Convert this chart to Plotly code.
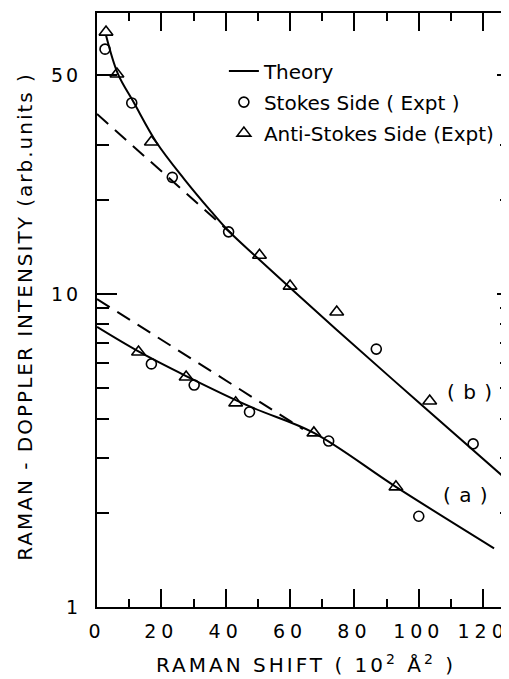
import plotly.graph_objects as go

# ---- data ----
# Theory curves (solid)
theory_b_x = [2.8, 6.5, 11.4, 18.5, 27.1, 35.4, 40.9, 49.8, 60.0, 74.2, 99.4, 126.8]
theory_b_y = [67.1, 50.5, 41.0, 30.5, 23.3, 18.4, 15.9, 13.06, 10.47, 7.73, 4.56, 2.58]
theory_a_x = [0.0, 12.6, 27.7, 48.0, 67.4, 92.9, 123.4]
theory_a_y = [7.85, 6.58, 5.47, 4.35, 3.60, 2.42, 1.54]

# Dashed asymptotic lines
dash_b_x = [0.0, 41.8]
dash_b_y = [37.6, 15.6]
dash_a_x = [0.0, 64.0]
dash_a_y = [9.64, 3.70]

# Stokes side (circles)
stokes_b_x = [2.5, 10.8, 23.4, 40.9, 86.8, 116.9]
stokes_b_y = [60.6, 40.8, 23.6, 15.8, 6.67, 3.32]
stokes_a_x = [16.9, 30.2, 47.4, 72.0, 100.0]
stokes_a_y = [5.98, 5.12, 4.20, 3.39, 1.95]

# Anti-Stokes side (triangles)
anti_b_x = [2.8, 6.2, 16.9, 50.5, 60.0, 74.5, 103.4]
anti_b_y = [68.7, 50.5, 30.6, 13.3, 10.6, 8.76, 4.55]
anti_a_x = [12.9, 27.7, 43.1, 67.4, 92.9]
anti_a_y = [6.53, 5.43, 4.49, 3.60, 2.42]

x_tickvals = [0, 20, 40, 60, 80, 100, 120]
x_ticklabels = ["0", "20", "40", "60", "80", "100", "120"]
x_minor = [10, 30, 50, 70, 90, 110]
y_tickvals = [1, 10, 50]
y_ticklabels = ["1", "10", "50"]
y_minor = [2, 3, 4, 5, 6, 7, 8, 9, 20, 30]

FONT = "DejaVu Sans"
BLACK = "black"


def spaced(t, ls):
    return f'<span style="letter-spacing:{ls}px">{t}</span>'


fig = go.Figure()

# theory curves
fig.add_trace(go.Scatter(x=theory_b_x, y=theory_b_y, mode="lines", line=dict(color=BLACK, width=2, shape="spline"),
                         name="Theory", legendgroup="g1", showlegend=True))
fig.add_trace(go.Scatter(x=theory_a_x, y=theory_a_y, mode="lines", line=dict(color=BLACK, width=2, shape="spline"),
                         name="Theory", legendgroup="g1", showlegend=False))
# dashed lines
fig.add_trace(go.Scatter(x=dash_b_x, y=dash_b_y, mode="lines", line=dict(color=BLACK, width=2, dash="15px,9px"),
                         showlegend=False))
fig.add_trace(go.Scatter(x=dash_a_x, y=dash_a_y, mode="lines", line=dict(color=BLACK, width=2, dash="15px,9px"),
                         showlegend=False))
# Stokes
circ = dict(symbol="circle-open", size=10, color=BLACK, line=dict(width=1.6, color=BLACK))
fig.add_trace(go.Scatter(x=stokes_b_x, y=stokes_b_y, mode="markers", marker=circ,
                         name="Stokes Side ( Expt )", legendgroup="g2", showlegend=True))
fig.add_trace(go.Scatter(x=stokes_a_x, y=stokes_a_y, mode="markers", marker=circ,
                         name="Stokes Side ( Expt )", legendgroup="g2", showlegend=False))
# Anti-Stokes
tri = dict(symbol="triangle-up-open", size=12, color=BLACK, line=dict(width=1.6, color=BLACK))
fig.add_trace(go.Scatter(x=anti_b_x, y=anti_b_y, mode="markers", marker=tri,
                         name="Anti-Stokes Side (Expt)", legendgroup="g3", showlegend=True))
fig.add_trace(go.Scatter(x=anti_a_x, y=anti_a_y, mode="markers", marker=tri,
                         name="Anti-Stokes Side (Expt)", legendgroup="g3", showlegend=False))
# carrier for right-hand mirror ticks
fig.add_trace(go.Scatter(x=[], y=[], yaxis="y2", showlegend=False, hoverinfo="skip"))

fig.add_annotation(x=116, y=0.687, yref="y", text=spaced("( b )", 1), showarrow=False,
                   font=dict(family=FONT, size=20, color=BLACK))
fig.add_annotation(x=114.8, y=0.358, yref="y", text=spaced("( a )", 1), showarrow=False,
                   font=dict(family=FONT, size=20, color=BLACK))

# axis titles
fig.add_annotation(xref="paper", yref="paper", x=-0.177, y=0.490, textangle=-90,
                   xanchor="center", yanchor="middle",
                   text=spaced("RAMAN - DOPPLER INTENSITY (arb.units )", 2), showarrow=False,
                   font=dict(family=FONT, size=20, color=BLACK))
fig.add_annotation(xref="paper", yref="paper", x=0.512, y=-0.096,
                   xanchor="center", yanchor="middle",
                   text=spaced("RAMAN SHIFT ( 10<sup>2</sup> Å<sup>2</sup> )", 3), showarrow=False,
                   font=dict(family=FONT, size=20, color=BLACK))

# The page body has an 8px margin; the figure is sized so the plot sits where the reference has it.
fig.update_layout(
    width=501, height=671,
    margin=dict(l=89, r=0, t=5, b=72),
    plot_bgcolor="white", paper_bgcolor="white",
    font=dict(family=FONT, color=BLACK),
    legend=dict(x=0.311, y=0.935, xanchor="left", yanchor="top", bgcolor="rgba(0,0,0,0)",
                font=dict(family=FONT, size=20, color=BLACK), tracegroupgap=2,
                itemwidth=30, traceorder="grouped"),
    xaxis=dict(range=[0, 126.8], tickvals=x_tickvals, ticktext=[spaced(t, 5) for t in x_ticklabels],
               ticks="inside", ticklen=18, tickwidth=2, ticklabeloverflow="allow",
               tickcolor=BLACK, showline=True, linewidth=2, linecolor=BLACK, mirror="ticks",
               showgrid=False, zeroline=False, ticklabelstandoff=6,
               tickfont=dict(family=FONT, size=19, color=BLACK),
               minor=dict(tickvals=x_minor, ticks="inside", ticklen=8, tickwidth=2, tickcolor=BLACK, showgrid=False)),
    yaxis=dict(type="log", range=[0, 1.898], tickvals=y_tickvals, ticktext=[spaced(t, 3) for t in y_ticklabels],
               ticks="inside", ticklen=20, tickwidth=2, tickcolor=BLACK,
               showline=True, linewidth=2, linecolor=BLACK, mirror=False,
               showgrid=False, zeroline=False, ticklabelstandoff=10,
               tickfont=dict(family=FONT, size=19, color=BLACK),
               minor=dict(tickvals=y_minor, ticks="inside", ticklen=12, tickwidth=2, tickcolor=BLACK, showgrid=False)),
    yaxis2=dict(type="log", range=[0, 1.898], overlaying="y", side="right", tickvals=y_tickvals,
                ticks="inside", ticklen=8, tickwidth=2, tickcolor=BLACK, showline=False,
                showticklabels=False, showgrid=False, zeroline=False,
                minor=dict(tickvals=y_minor, ticks="inside", ticklen=5, tickwidth=2, tickcolor=BLACK, showgrid=False)),
)

fig.write_html("out.html")
